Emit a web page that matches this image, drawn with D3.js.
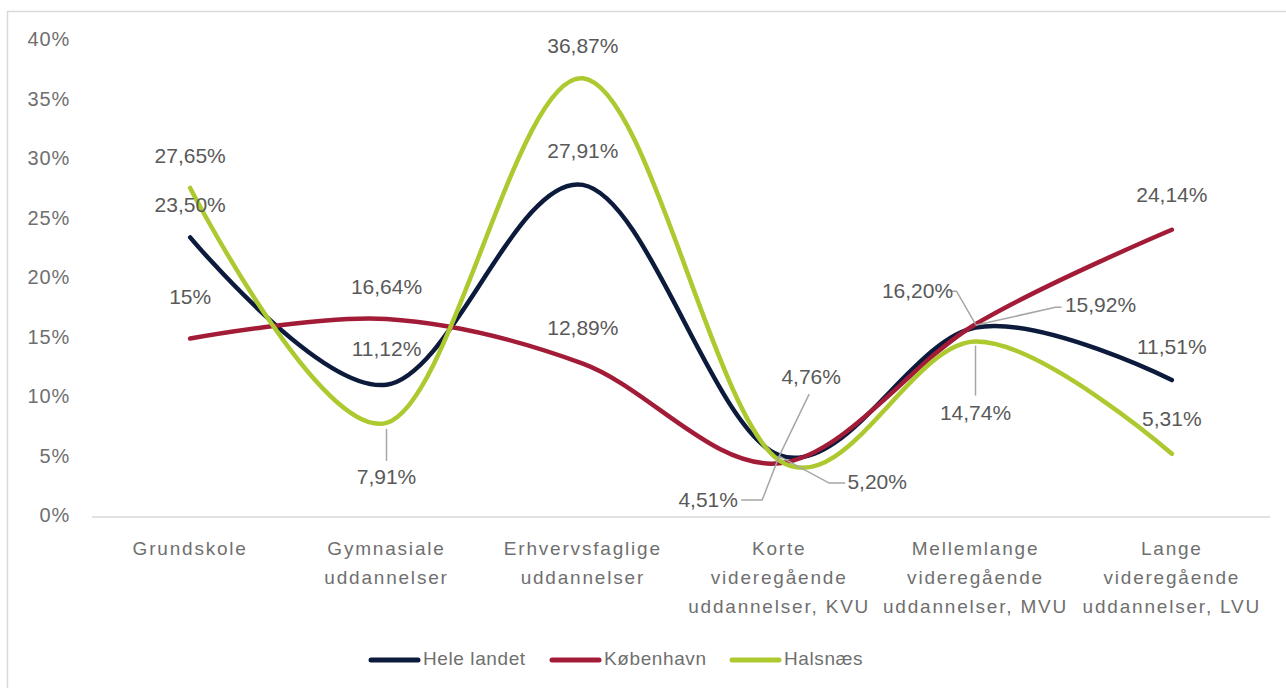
<!DOCTYPE html>
<html>
<head>
<meta charset="utf-8">
<script src="https://d3js.org/d3.v7.min.js"></script>
<style>
  body { margin: 0; background: #fff; }
  svg text { font-family: "Liberation Sans", Arial, sans-serif; }
</style>
</head>
<body>
<svg width="1286" height="688"></svg>

<script>
  // categories (multi-line labels)
  const categories = [
    ["Grundskole"],
    ["Gymnasiale", "uddannelser"],
    ["Erhvervsfaglige", "uddannelser"],
    ["Korte", "videregående", "uddannelser, KVU"],
    ["Mellemlange", "videregående", "uddannelser, MVU"],
    ["Lange", "videregående", "uddannelser, LVU"]
  ];

  const seriesNames = ["Hele landet", "København", "Halsnæs"];
  const heleLandet = [23.50, 11.12, 27.91, 5.20, 15.92, 11.51];
  const kobenhavn  = [15.00, 16.64, 12.89, 4.51, 16.20, 24.14];
  const halsnaes   = [27.65, 7.91, 36.87, 4.76, 14.74, 5.31];
  const labelText = [
    ["23,50%", "11,12%", "27,91%", "5,20%", "15,92%", "11,51%"],
    ["15%", "16,64%", "12,89%", "4,51%", "16,20%", "24,14%"],
    ["27,65%", "7,91%", "36,87%", "4,76%", "14,74%", "5,31%"]
  ];
  const yTicks = [0, 5, 10, 15, 20, 25, 30, 35, 40];

  const colors = ["#0c1a3c", "#a31c37", "#adc930"];

  // manual data label placement: [dx, dy, callout key]
  const labelOffsets = [
    [[0, -31], [0, -34], [0, -32], [0, 0, "k"], [0, 0, "r"], [0, -32]],
    [[0, -40], [0, -31], [0, -34], [0, 0, "l"], [0, 0, "m"], [0, -33]],
    [[0, -31], [0, 56, "d"], [0, -31], [0, 0, "a"], [0, 0, "h"], [0, -33]]
  ];

  const svg = d3.select("svg");
  const series = [heleLandet, kobenhavn, halsnaes];

  // chart frame
  svg.append("rect")
    .attr("x", 7.5).attr("y", 11.5)
    .attr("width", 1300).attr("height", 700)
    .attr("fill", "none").attr("stroke", "#d9d9d9").attr("stroke-width", 1.5);

  const x = d3.scaleBand().domain(d3.range(categories.length)).range([92, 1270]);
  const cx = i => x(i) + x.bandwidth() / 2;
  const y = d3.scaleLinear().domain([0, 40]).range([517, 41]);

  // y axis labels
  svg.append("g").selectAll("text").data(yTicks).join("text")
    .attr("x", 70).attr("y", d => y(d))
    .attr("text-anchor", "end").attr("dominant-baseline", "middle")
    .attr("fill", "#6f6f6f").style("font-size", "20px").style("letter-spacing", "0.8px")
    .text(d => d + "%");

  // baseline
  svg.append("line")
    .attr("x1", 92).attr("x2", 1270)
    .attr("y1", y(0)).attr("y2", y(0))
    .attr("stroke", "#d9d9d9").attr("stroke-width", 1.5);

  // category labels
  const cat = svg.append("g").selectAll("text").data(categories).join("text")
    .attr("text-anchor", "middle")
    .attr("fill", "#6f6f6f")
    .style("font-size", "19px").style("letter-spacing", "1.8px");
  cat.each(function(lines, i) {
    d3.select(this).selectAll("tspan").data(lines).join("tspan")
      .attr("x", cx(i)).attr("y", (d, j) => 555 + j * 29)
      .text(d => d);
  });

  // lines
  const line = d3.line()
    .x((d, i) => cx(i))
    .y(d => y(d))
    .curve(d3.curveCatmullRom.alpha(0));

  svg.append("g").selectAll("path").data(series).join("path")
    .attr("d", d => line(d))
    .attr("fill", "none")
    .attr("stroke", (d, i) => colors[i])
    .attr("stroke-width", 4.5)
    .attr("stroke-linecap", "round");

  // leader lines (label callouts)
  const leaderG = svg.append("g").attr("fill", "none")
    .attr("stroke", "#a6a6a6").attr("stroke-width", 1.5);
  const k = 3, m = 4;
  const kx = cx(k), ky = y(heleLandet[k]) + 1;
  const mx = cx(m), my = y(kobenhavn[m]);
  const leaders = {
    d: [[cx(1), y(halsnaes[1]) + 6], [cx(1), y(halsnaes[1]) + 38]],
    a: [[kx, ky], [kx + 30, ky - 62]],
    l: [[kx, ky], [kx - 17, ky + 44], [kx - 38, ky + 44]],
    k: [[kx, ky], [kx + 50, ky + 27], [kx + 66, ky + 27]],
    m: [[mx, my], [mx - 19, my - 33], [mx - 26, my - 33]],
    r: [[mx, my + 1], [mx + 80, my - 17], [mx + 86, my - 17]],
    h: [[mx, y(halsnaes[m]) + 4], [mx, y(halsnaes[m]) + 54]]
  };
  Object.values(leaders).forEach(pts => {
    leaderG.append("path").attr("d", d3.line()(pts));
  });

  // special label positions (for callouts)
  const calloutPos = {
    a: [kx + 32, ky - 78],
    l: [kx - 71, ky + 45],
    k: [kx + 98, ky + 27],
    m: [mx - 58, my - 32],
    r: [mx + 125, my - 18],
    h: [mx, y(halsnaes[m]) + 73]
  };

  const labG = svg.append("g");
  series.forEach((vals, s) => {
    vals.forEach((v, i) => {
      const off = labelOffsets[s][i];
      let px = cx(i) + off[0], py = y(v) + off[1];
      if (off[2] && calloutPos[off[2]]) { [px, py] = calloutPos[off[2]]; }
      labG.append("text")
        .attr("x", px).attr("y", py)
        .attr("text-anchor", "middle").attr("dominant-baseline", "middle")
        .attr("fill", "#595959").style("font-size", "21px")
        .text(labelText[s][i]);
    });
  });

  // legend
  const legendX = [371, 552, 732];
  const lg = svg.append("g").selectAll("g").data(seriesNames).join("g")
    .attr("transform", (d, i) => `translate(${legendX[i]},660)`);
  lg.append("line")
    .attr("x1", 0).attr("x2", 47).attr("y1", 0).attr("y2", 0)
    .attr("stroke", (d, i) => colors[i]).attr("stroke-width", 5)
    .attr("stroke-linecap", "round");
  lg.append("text")
    .attr("x", 52).attr("y", 0).attr("dominant-baseline", "middle")
    .attr("fill", "#6f6f6f").style("font-size", "19px").style("letter-spacing", "0.6px")
    .text(d => d);
</script>
</body>
</html>
